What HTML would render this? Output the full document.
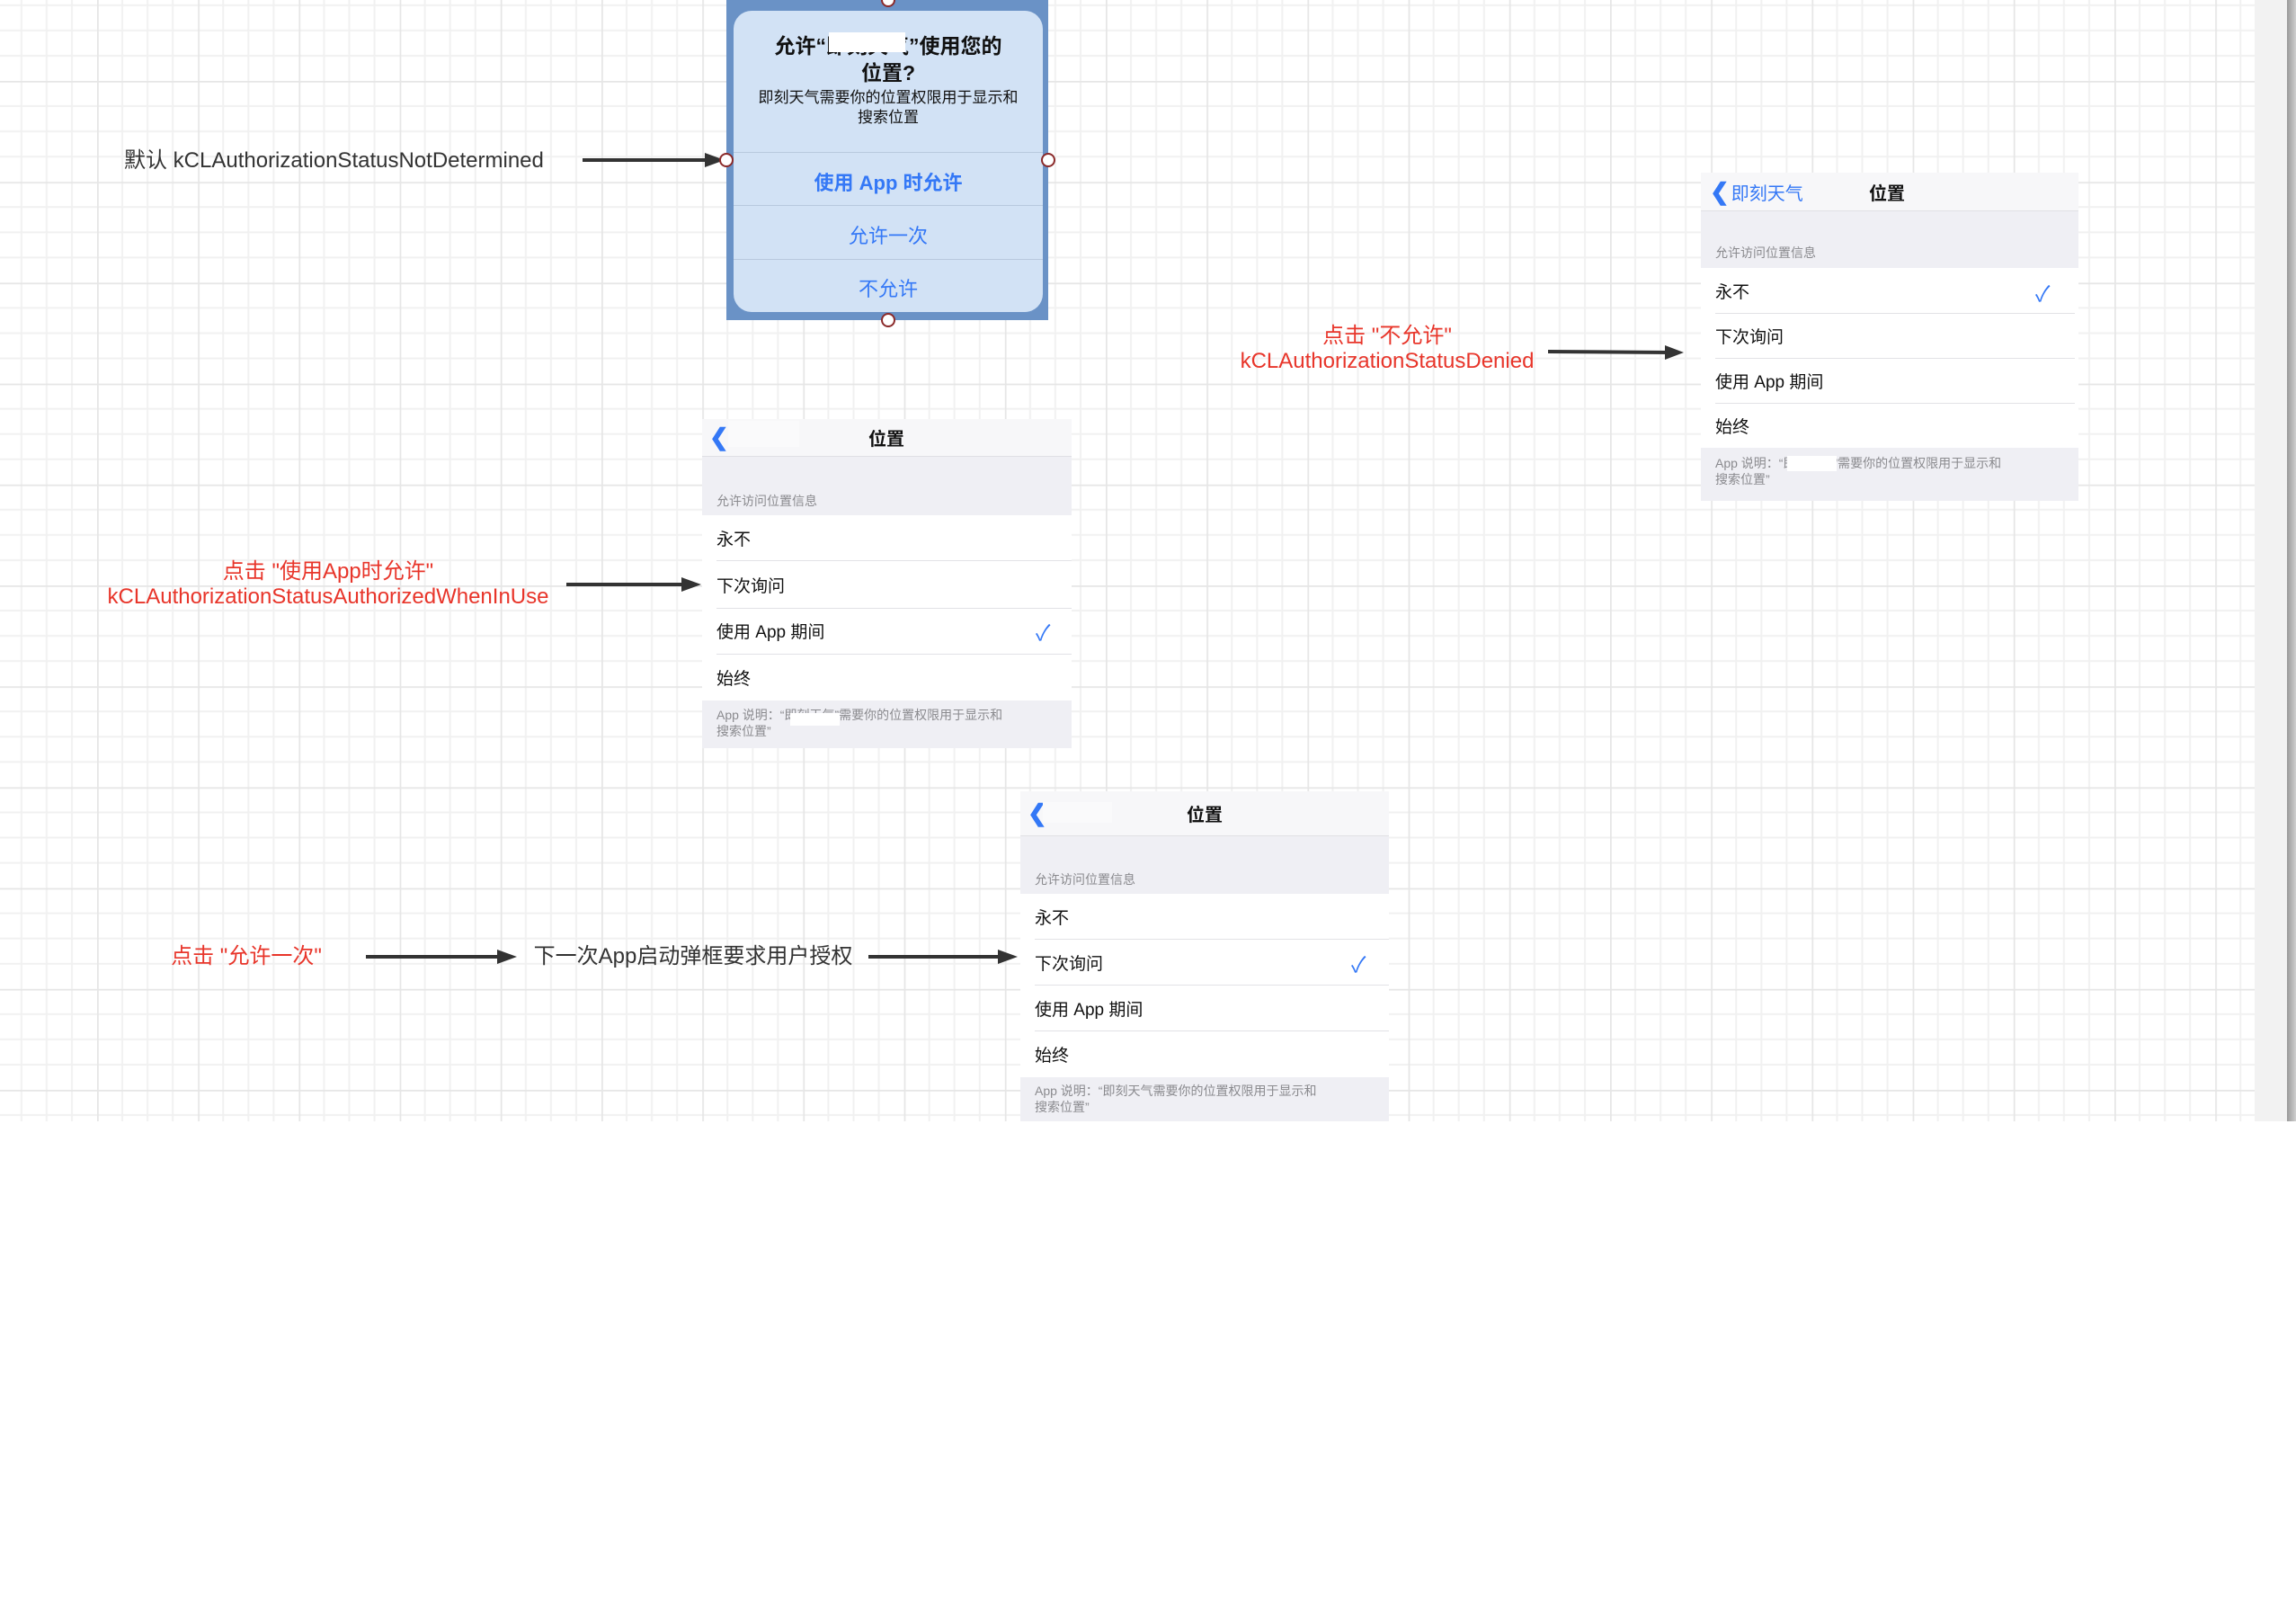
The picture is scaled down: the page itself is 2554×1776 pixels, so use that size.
<!DOCTYPE html>
<html><head><meta charset="utf-8">
<style>
*{margin:0;padding:0;box-sizing:border-box}
html,body{width:2554px;height:1776px;background:#fff;overflow:hidden;position:relative;font-family:"Liberation Sans","Noto Sans CJK SC",sans-serif}
.abs{position:absolute}
.lbl{position:absolute;font-size:24px;color:#333;white-space:nowrap;line-height:28px}
.red{color:#e8352a;text-align:center}
.panel{position:absolute;background:#efeff4;overflow:hidden}
.nav{position:absolute;left:0;right:0;top:0;background:#f7f7f9;border-bottom:1px solid #e0e0e4}
.nav .t{position:absolute;top:0;bottom:0;display:flex;align-items:center;font-size:20px;color:#111;font-weight:bold}
.nav .b{position:absolute;top:0;bottom:0;display:flex;align-items:center;font-size:20px;color:#3478f6}
.sec{position:absolute;font-size:14px;color:#8a8a8e}
.row{position:absolute;left:0;right:0;background:#fff;font-size:19px;color:#111;display:flex;align-items:center;padding-left:16px}
.sep{position:absolute;height:1px;background:#e2e2e6;right:0}
.chk{position:absolute;color:#3478f6;font-size:24px}
.foot{position:absolute;font-size:14px;color:#8a8a8e;line-height:18px}
.mask{position:absolute;background:#fff}
</style></head><body>
<svg class="abs" style="left:0;top:0" width="2508" height="1247">
<defs>
<pattern id="g" x="-4.2" y="-22.2" width="112.2" height="112.2" patternUnits="userSpaceOnUse">
<path d="M28.05 0V112.2M56.1 0V112.2M84.15 0V112.2M0 28.05H112.2M0 56.1H112.2M0 84.15H112.2" stroke="#f1f1f1" stroke-width="2"/>
<path d="M0.5 0V112.2M0 0.5H112.2" stroke="#e6e6e6" stroke-width="2.5"/>
</pattern>
</defs>
<rect width="2508" height="1247" fill="url(#g)"/>
</svg>
<div class="abs" style="left:2508px;top:0;width:36px;height:1247px;background:#f2f2f2"></div>
<div class="abs" style="left:2544px;top:0;width:10px;height:1247px;background:linear-gradient(90deg,#9a9a9a,#d0d0d0)"></div>

<!-- alert -->
<div class="abs" style="left:808px;top:0;width:358px;height:356px;background:#6a92c6"></div>
<div class="abs" style="left:816px;top:12px;width:344px;height:335px;background:#d2e2f5;border-radius:20px"></div>
<div class="abs" style="left:816px;top:36px;width:344px;text-align:center;font-size:23px;font-weight:bold;color:#111;line-height:30px">允许“即刻天气”使用您的<br>位置?</div>
<div class="mask" style="left:922px;top:36px;width:85px;height:22px"></div>
<div class="abs" style="left:816px;top:98px;width:344px;text-align:center;font-size:17px;color:#111;line-height:22px">即刻天气需要你的位置权限用于显示和<br>搜索位置</div>
<div class="abs" style="left:816px;top:169px;width:344px;height:1px;background:#b8c9de"></div>
<div class="abs" style="left:816px;top:228px;width:344px;height:1px;background:#b8c9de"></div>
<div class="abs" style="left:816px;top:288px;width:344px;height:1px;background:#b8c9de"></div>
<div class="abs" style="left:816px;top:186px;width:344px;text-align:center;font-size:22px;color:#3478f6;font-weight:bold">使用 App 时允许</div>
<div class="abs" style="left:816px;top:245px;width:344px;text-align:center;font-size:22px;color:#3478f6">允许一次</div>
<div class="abs" style="left:816px;top:304px;width:344px;text-align:center;font-size:22px;color:#3478f6">不允许</div>

<!-- panel 1 -->
<div class="panel" style="left:1892px;top:192px;width:420px;height:365px">
<div class="nav" style="height:43px"><div class="b" style="left:10px"><b style="font-size:26px;margin-right:2px">&#10094;</b>即刻天气</div><div class="t" style="left:187px">位置</div></div>
<div class="sec" style="left:16px;top:79px">允许访问位置信息</div>
<div class="row" style="top:106px;height:50px">永不</div>
<div class="row" style="top:156px;height:50px">下次询问</div>
<div class="row" style="top:206px;height:50px">使用 App 期间</div>
<div class="row" style="top:256px;height:50px">始终</div>
<div class="sep" style="left:16px;top:156px;right:4px"></div><div class="sep" style="left:16px;top:206px;right:4px"></div><div class="sep" style="left:16px;top:256px;right:4px"></div>
<div class="chk" style="left:372px;top:115px">✓</div>
<div class="foot" style="left:16px;top:314px">App 说明：“即刻天气”需要你的位置权限用于显示和<br>搜索位置”</div>
<div class="mask" style="left:96px;top:315px;width:55px;height:17px"></div>
</div>

<!-- panel 2 -->
<div class="panel" style="left:781px;top:466px;width:411px;height:366px">
<div class="nav" style="height:42px"><div class="b" style="left:8px"><b style="font-size:26px">&#10094;</b></div><div class="t" style="left:185px">位置</div></div>
<div class="mask" style="left:29px;top:2px;width:79px;height:29px;background:#fafafb"></div>
<div class="sec" style="left:16px;top:81px">允许访问位置信息</div>
<div class="row" style="top:107px;height:51px">永不</div>
<div class="row" style="top:158px;height:52px">下次询问</div>
<div class="row" style="top:210px;height:51px">使用 App 期间</div>
<div class="row" style="top:261px;height:52px">始终</div>
<div class="sep" style="left:16px;top:157px"></div><div class="sep" style="left:16px;top:210px"></div><div class="sep" style="left:16px;top:261px"></div>
<div class="chk" style="left:371px;top:218px">✓</div>
<div class="foot" style="left:16px;top:320px">App 说明：“即刻天气”需要你的位置权限用于显示和<br>搜索位置”</div>
<div class="mask" style="left:98px;top:327px;width:55px;height:14px"></div>
</div>

<!-- panel 3 -->
<div class="panel" style="left:1135px;top:880px;width:410px;height:367px">
<div class="nav" style="height:50px"><div class="b" style="left:8px"><b style="font-size:26px">&#10094;</b></div><div class="t" style="left:185px">位置</div></div>
<div class="mask" style="left:25px;top:12px;width:77px;height:23px;background:#fafafb"></div>
<div class="sec" style="left:16px;top:88px">允许访问位置信息</div>
<div class="row" style="top:114px;height:51px">永不</div>
<div class="row" style="top:165px;height:51px">下次询问</div>
<div class="row" style="top:216px;height:51px">使用 App 期间</div>
<div class="row" style="top:267px;height:51px">始终</div>
<div class="sep" style="left:16px;top:164px"></div><div class="sep" style="left:16px;top:215px"></div><div class="sep" style="left:16px;top:266px"></div>
<div class="chk" style="left:368px;top:173px">✓</div>
<div class="foot" style="left:16px;top:324px">App 说明：“即刻天气需要你的位置权限用于显示和<br>搜索位置”</div>
</div>

<!-- labels -->
<div class="lbl" style="left:138px;top:165px">默认 kCLAuthorizationStatusNotDetermined</div>
<div class="lbl red" style="left:1343px;top:360px;width:400px">点击 "不允许"<br>kCLAuthorizationStatusDenied</div>
<div class="lbl red" style="left:65px;top:622px;width:600px">点击 "使用App时允许"<br>kCLAuthorizationStatusAuthorizedWhenInUse</div>
<div class="lbl red" style="left:124px;top:1050px;width:300px">点击 "允许一次"</div>
<div class="lbl" style="left:571px;top:1050px;width:400px;text-align:center">下一次App启动弹框要求用户授权</div>

<!-- arrows & handles -->
<svg class="abs" style="left:0;top:0" width="2554" height="1776">
<g fill="#333" stroke="#333" stroke-width="4">
<line x1="648" y1="178" x2="790" y2="178"/><polygon stroke-width="0" points="784,170 806,178 784,186"/>
<line x1="1722" y1="391" x2="1858" y2="392"/><polygon stroke-width="0" points="1852,384 1873,392 1852,400"/>
<line x1="630" y1="650" x2="764" y2="650"/><polygon stroke-width="0" points="758,642 780,650 758,658"/>
<line x1="407" y1="1064" x2="560" y2="1064"/><polygon stroke-width="0" points="553,1056 575,1064 553,1072"/>
<line x1="966" y1="1064" x2="1116" y2="1064"/><polygon stroke-width="0" points="1110,1056 1132,1064 1110,1072"/>
</g>
<g fill="#fff" stroke="#8b2a2a" stroke-width="2">
<circle cx="988" cy="0" r="7"/><circle cx="808" cy="178" r="7"/><circle cx="1166" cy="178" r="7"/><circle cx="988" cy="356" r="7"/>
</g>
</svg>
</body></html>
